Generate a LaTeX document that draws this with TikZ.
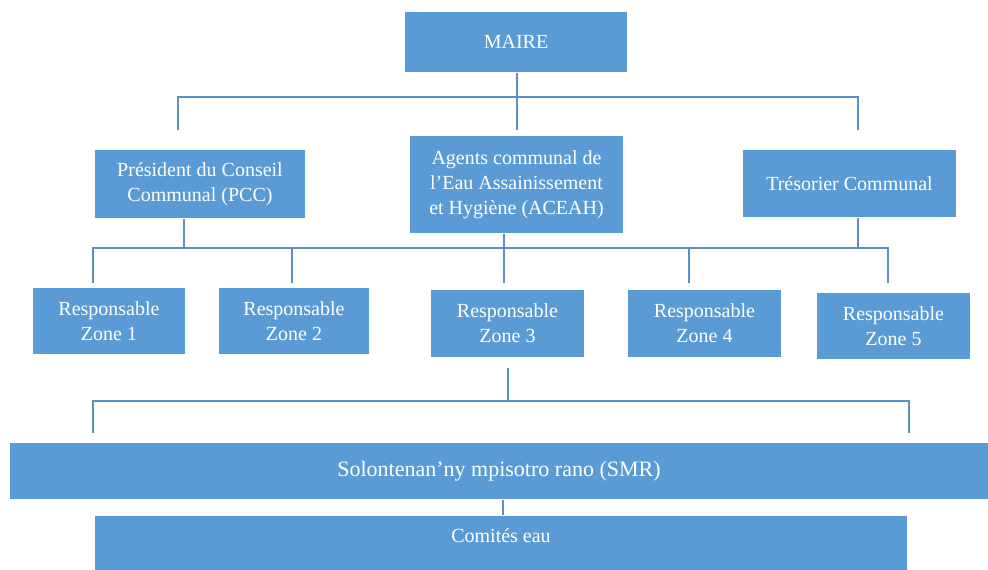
\documentclass[tikz,border=0pt]{standalone}
\usepackage{fontspec}
\setmainfont{Liberation Serif}
\usepackage{tikz}
\usetikzlibrary{positioning}

\definecolor{boxblue}{HTML}{5B9BD5}
\definecolor{lineblue}{HTML}{5A8FC8}

\begin{document}
\begin{tikzpicture}[x=1pt,y=-1pt,line width=2.2pt]

		\tikzset{box/.style={rectangle, draw=none, inner sep=0pt,
				fill=boxblue, text=white, align=center,
				font=\fontsize{20}{25}\selectfont}}
		\tikzset{bar/.style={box, font=\fontsize{22}{26}\selectfont}}
		\tikzset{link/.style={draw=lineblue, line cap=butt}}

	\useasboundingbox (0,0) rectangle (988,570);

	\node[box, minimum width=222pt, minimum height=60pt] (maire) at (516,42) {MAIRE};

	\node[box, minimum width=210pt, minimum height=68pt] (pcc) at (200,184) {Président du Conseil\\Communal (PCC)};
	\node[box, minimum width=213pt, minimum height=97pt] (aceah) at (516.5,184.5) {Agents communal de\\l'Eau Assainissement\\et Hygiène (ACEAH)};
	\node[box, minimum width=213pt, minimum height=67pt] (treso) at (849.5,183.5) {Trésorier Communal};

	\node[box, minimum width=152pt, minimum height=66pt] (z1) at (109,321) {Responsable\\Zone 1};
	\node[box, minimum width=150pt, minimum height=66pt] (z2) at (294,321) {Responsable\\Zone 2};
	\node[box, minimum width=153pt, minimum height=67pt] (z3) at (507.5,323.5) {Responsable\\Zone 3};
	\node[box, minimum width=153pt, minimum height=67pt] (z4) at (704.5,323.5) {Responsable\\Zone 4};
	\node[box, minimum width=153pt, minimum height=66pt] (z5) at (893.5,326) {Responsable\\Zone 5};

	\node[bar, minimum width=978pt, minimum height=56pt] (smr) at (499,471) {Solontenan’ny mpisotro rano (SMR)};
	\node[box, minimum width=812pt, minimum height=54pt, text depth=14pt] (comite) at (501,543) {Comités eau};

	% free ends of the branches
	\coordinate (a1) at (178,130);
	\coordinate (a2) at (858,130);
	\coordinate (b1) at (93,283);
	\coordinate (b2) at (292,283);
	\coordinate (b3) at (504,283);
	\coordinate (b4) at (689,283);
	\coordinate (b5) at (888,283);
	\coordinate (c0) at (508,368);
	\coordinate (c1) at (93,433);
	\coordinate (c2) at (909,433);

	\draw[link] (maire.south -| 517,0) -- (a1 -| 517,0);
	\draw[link] (a1) -- ++(0,-33) -| (a2);

	\draw[link] (b1) -- ++(0,-35) -| (b5);
	\draw[link] (b2) -- ++(0,-35);
	\draw[link] (b4) -- ++(0,-35);
	\draw[link] (aceah.south -| b3) -- (b3);
	\draw[link] (pcc.south -| 184,0) -- ++(0,30);
	\draw[link] (treso.south -| a2) -- ++(0,31);

	\draw[link] (c0) -- ++(0,33);
	\draw[link] (c1) -- ++(0,-32) -| (c2);

	\draw[link] (smr.south -| 503,0) -- (comite.north -| 503,0);
\end{tikzpicture}
\end{document}
